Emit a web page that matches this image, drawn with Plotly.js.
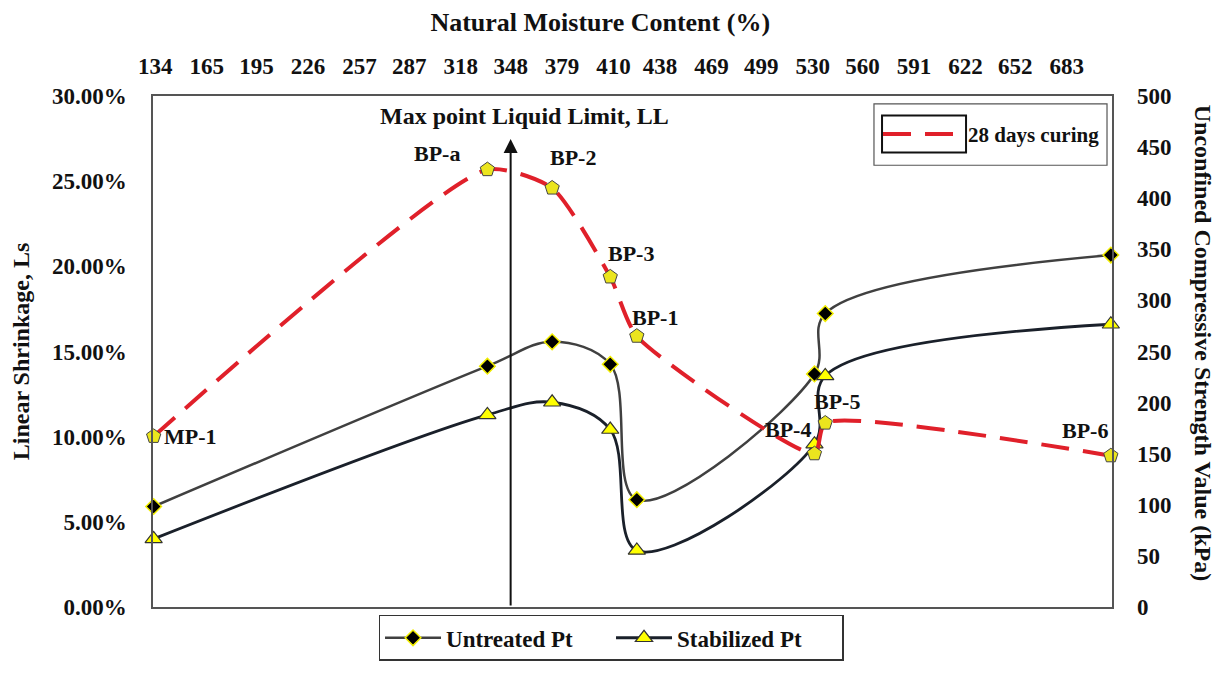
<!DOCTYPE html>
<html>
<head>
<meta charset="utf-8">
<script src="https://cdn.plot.ly/plotly-3.0.1.min.js"></script>
<style>
  html, body { margin: 0; padding: 0; background: #ffffff; }
  #chart { width: 1220px; height: 673px; }
</style>
</head>
<body>
<div id="chart"></div>
<script>
// ---- data ----
const sampleNames = ['MP-1', 'BP-a', 'BP-2', 'BP-3', 'BP-1', 'BP-4', 'BP-5', 'BP-6'];
const moistureContent = [133, 334, 373, 408, 424, 531, 537.5, 709.5];
const untreatedLs = [0.059, 0.1414, 0.1557, 0.1425, 0.063, 0.1368, 0.1723, 0.2066];
const stabilizedLs = [0.040, 0.1128, 0.1202, 0.1042, 0.0332, 0.0956, 0.1357, 0.166];
const ucs28Days = [167, 428, 410, 323, 265, 150, 180, 148];
const moistureTicks = [134, 165, 195, 226, 257, 287, 318, 348, 379, 410, 438, 469, 499, 530, 560, 591, 622, 652, 683];
const shrinkageTicks = [0, 0.05, 0.10, 0.15, 0.20, 0.25, 0.30];
const ucsTicks = [0, 50, 100, 150, 200, 250, 300, 350, 400, 450, 500];
const liquidLimitMoisture = 348;

// ---- styles ----
const FONT = 'Liberation Serif, Times New Roman, serif';
const bold = (size, color) => ({ family: FONT, size: size, weight: 'bold', color: color || '#111' });
// label offsets (px) for each sample label
const labelOffsets = [
  { xs: 8, ys: 0, anchor: 'left' },
  { xs: -50, ys: 16, anchor: 'center' },
  { xs: 21, ys: 30, anchor: 'center' },
  { xs: 21, ys: 23, anchor: 'center' },
  { xs: 18, ys: 19, anchor: 'center' },
  { xs: -26, ys: 24, anchor: 'center' },
  { xs: 12, ys: 22, anchor: 'center' },
  { xs: -26, ys: 25, anchor: 'center' }
];

const traces = [
  {
    name: 'Untreated Pt', x: moistureContent, y: untreatedLs, type: 'scatter', mode: 'lines+markers',
    xaxis: 'x', yaxis: 'y', cliponaxis: false,
    line: { color: '#404040', width: 2.5, shape: 'spline', smoothing: 1 },
    marker: { symbol: 'diamond', size: 12, color: '#000000', line: { color: '#f2ee00', width: 1.5 } },
    legend: 'legend'
  },
  {
    name: 'Stabilized Pt', x: moistureContent, y: stabilizedLs, type: 'scatter', mode: 'lines+markers',
    xaxis: 'x', yaxis: 'y', cliponaxis: false,
    line: { color: '#1a202a', width: 2.8, shape: 'spline', smoothing: 1 },
    marker: { symbol: 'triangle-up', size: 15, color: '#ffff00', line: { color: '#333333', width: 1.2 } },
    legend: 'legend'
  },
  {
    name: '28 days curing', x: moistureContent, y: ucs28Days, type: 'scatter', mode: 'lines',
    xaxis: 'x', yaxis: 'y2', cliponaxis: false,
    line: { color: '#e0202a', width: 4, shape: 'spline', smoothing: 0.6, dash: '28px,14px' },
    legend: 'legend2'
  },
  {
    name: '28 days curing', x: moistureContent, y: ucs28Days, type: 'scatter', mode: 'markers',
    xaxis: 'x', yaxis: 'y2', cliponaxis: false, showlegend: false,
    marker: { symbol: 'pentagon', size: 15, color: '#ebe51e', line: { color: '#444444', width: 1 } }
  }
];

const annotations = sampleNames.map((name, i) => ({
  text: name, x: moistureContent[i], y: ucs28Days[i], xref: 'x', yref: 'y2',
  showarrow: false, xanchor: labelOffsets[i].anchor, yanchor: 'middle',
  xshift: labelOffsets[i].xs, yshift: labelOffsets[i].ys, font: bold(22)
}));
annotations.push({
  x: liquidLimitMoisture, y: 0.2748, ax: liquidLimitMoisture, ay: 0,
  xref: 'x', yref: 'y', axref: 'x', ayref: 'y', text: '', showarrow: true,
  arrowhead: 2, arrowsize: 1.4, arrowwidth: 2, arrowcolor: '#111'
});
annotations.push({
  text: 'Max point Liquid Limit, LL', x: liquidLimitMoisture, y: 0.288, xref: 'x', yref: 'y',
  showarrow: false, xanchor: 'center', yanchor: 'middle', xshift: 14, font: bold(24)
});
annotations.push({
  text: 'Unconfined Compressive Strength Value (kPa)', x: 1.095, y: 0.517, xref: 'paper', yref: 'paper',
  showarrow: false, textangle: 90, xanchor: 'center', yanchor: 'middle', font: bold(24)
});

const layout = {
  width: 1220, height: 673,
  margin: { l: 153, r: 108, t: 96, b: 53 },
  paper_bgcolor: '#ffffff', plot_bgcolor: '#ffffff',
  title: { text: 'Natural Moisture Content (%)', x: 0.492, xref: 'container', xanchor: 'center',
           y: 0.968, yref: 'container', yanchor: 'middle', font: bold(26) },
  xaxis: {
    side: 'top', range: [132.6, 710.2], tickvals: moistureTicks, ticktext: moistureTicks.map(String),
    ticks: '', ticklabelstandoff: 11, showline: true, mirror: true, linecolor: '#555', linewidth: 1.5,
    showgrid: false, zeroline: false, tickfont: bold(23)
  },
  yaxis: {
    range: [0, 0.30], tickvals: shrinkageTicks, tickformat: '.2%', ticks: '', ticklabelstandoff: 20,
    showline: true, mirror: true, linecolor: '#555', linewidth: 1.5, showgrid: false, zeroline: false,
    tickfont: bold(23),
    title: { text: 'Linear Shrinkage, Ls', font: bold(24), standoff: 16 }
  },
  yaxis2: {
    overlaying: 'y', side: 'right', range: [0, 500], tickvals: ucsTicks, ticks: '', ticklabelstandoff: 24,
    showline: false, showgrid: false, zeroline: false, tickfont: bold(23)
  },
  legend: {
    orientation: 'h', x: 0.4776, xanchor: 'center', y: -0.0153, yanchor: 'top',
    bordercolor: '#333', borderwidth: 1.5, font: bold(23), bgcolor: '#ffffff',
    entrywidth: 160, itemwidth: 56
  },
  legend2: {
    x: 0.756, xanchor: 'left', y: 0.925, yanchor: 'middle',
    borderwidth: 0, font: bold(21), bgcolor: 'rgba(0,0,0,0)', itemwidth: 80
  },
  shapes: [
    { type: 'rect', xref: 'paper', yref: 'paper', x0: 0.7518, x1: 0.9948, y0: 0.8645, y1: 0.9847,
      line: { color: '#555', width: 1.2 }, fillcolor: 'rgba(0,0,0,0)', layer: 'below' },
    { type: 'rect', xref: 'paper', yref: 'paper', x0: 0.7602, x1: 0.8478, y0: 0.8893, y1: 0.9618,
      line: { color: '#111', width: 2 }, fillcolor: 'rgba(0,0,0,0)', layer: 'below' }
  ],
  annotations: annotations,
  showlegend: true
};

Plotly.newPlot('chart', traces, layout, { displayModeBar: false, responsive: false });
</script>
</body>
</html>
